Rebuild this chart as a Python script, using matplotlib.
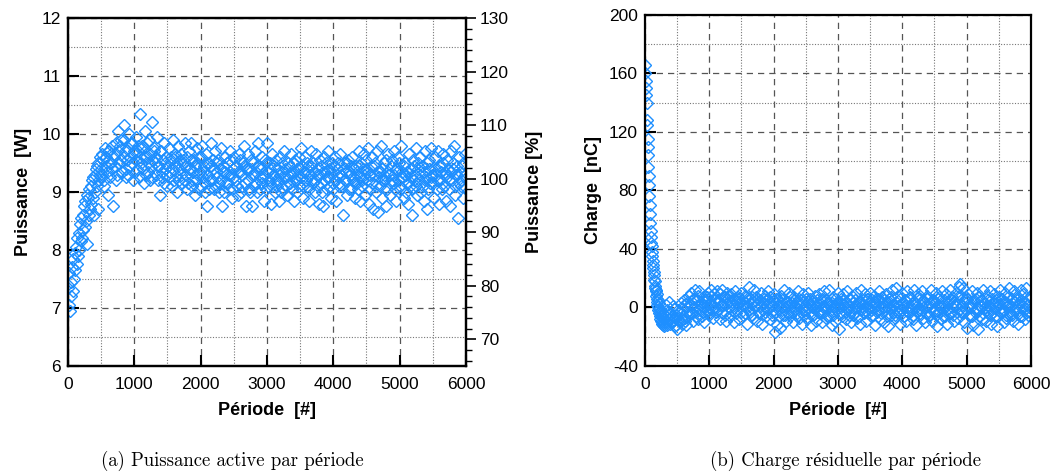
import numpy as np
import matplotlib
matplotlib.use("Agg")
import matplotlib.pyplot as plt
from matplotlib.ticker import MultipleLocator

# (a) puissance active - debut (pas de 10 periodes)
a_debut_periode = np.arange(0, 500, 10)
a_debut_puissance = [
    7.35, 7.05, 7.6, 6.95, 7.45, 7.2, 7.7, 7.3, 7.85, 7.5,
    7.95, 7.65, 8.05, 7.75, 8.2, 7.9, 8.3, 8.0, 8.45, 8.15,
    8.55, 8.2, 8.6, 8.35, 8.75, 8.4, 8.85, 8.5, 8.95, 8.1,
    8.9, 8.6, 9.05, 8.7, 9.1, 8.8, 9.2, 8.9, 9.25, 8.6,
    9.3, 9.0, 9.4, 9.1, 9.45, 8.7, 9.5, 9.2, 9.6, 9.3,
]
# (a) puissance active - regime, deux releves decales de 10 periodes
a_periode = np.arange(500, 6000, 20)
a_puissance = [
    9.4, 9.65, 9.2, 9.75, 9.45, 8.95, 9.7, 9.5, 9.8, 8.75,
    9.6, 9.85, 9.3, 10.05, 9.55, 9.9, 9.35, 10.15, 9.7, 9.25,
    9.75, 10.0, 9.45, 9.85, 9.2, 9.65, 9.95, 9.4, 9.7, 10.35,
    9.5, 9.8, 9.15, 10.05, 9.6, 9.35, 9.9, 9.2, 10.2, 9.55,
    9.75, 9.3, 9.95, 9.45, 8.95, 9.7, 9.25, 9.85, 9.4, 9.6,
    9.1, 9.75, 9.35, 9.55, 9.9, 9.2, 9.6, 9.0, 9.8, 9.4,
    9.65, 9.15, 9.5, 9.85, 9.3, 9.05, 9.7, 9.4, 9.85, 9.2,
    9.55, 8.95, 9.75, 9.3, 9.6, 9.1, 9.8, 9.35, 9.0, 9.65,
    8.75, 9.5, 9.2, 9.85, 9.4, 9.05, 9.7, 9.25, 9.55, 9.0,
    9.75, 8.75, 9.35, 9.6, 9.15, 9.5, 9.05, 9.7, 9.3, 8.9,
    9.6, 9.2, 9.45, 8.95, 9.65, 9.35, 9.1, 9.5, 9.8, 8.75,
    9.4, 9.65, 9.0, 9.55, 8.75, 9.3, 9.7, 9.15, 9.85, 9.45,
    9.05, 9.6, 9.25, 8.85, 9.5, 9.85, 9.1, 9.4, 8.8, 9.65,
    9.3, 9.0, 9.55, 9.2, 8.85, 9.6, 9.35, 9.05, 9.7, 9.25,
    8.95, 9.5, 9.15, 9.65, 9.3, 8.85, 9.55, 9.2, 9.0, 9.6,
    9.4, 9.75, 8.9, 9.35, 9.6, 9.1, 9.45, 8.85, 9.7, 9.2,
    9.5, 9.0, 9.65, 9.3, 8.8, 9.55, 9.15, 8.75, 9.6, 9.35,
    9.05, 9.7, 9.25, 8.9, 9.5, 9.15, 9.6, 8.85, 9.4, 9.1,
    9.65, 9.3, 8.6, 9.5, 9.2, 8.95, 9.55, 9.35, 9.05, 9.6,
    9.25, 8.9, 9.45, 9.15, 9.7, 8.85, 9.5, 9.2, 9.65, 8.95,
    9.4, 9.75, 8.8, 9.3, 9.6, 8.7, 9.45, 9.1, 9.7, 8.65,
    9.35, 9.8, 8.9, 9.5, 9.2, 8.75, 9.65, 9.3, 8.95, 9.55,
    9.15, 9.7, 8.85, 9.4, 9.6, 9.05, 9.8, 9.25, 8.9, 9.5,
    9.3, 8.8, 9.65, 9.1, 8.6, 9.55, 9.2, 9.75, 8.95, 9.4,
    9.6, 9.0, 9.45, 8.85, 9.7, 9.25, 8.7, 9.55, 9.15, 9.75,
    9.3, 8.9, 9.6, 9.2, 9.7, 8.8, 9.45, 9.05, 9.65, 9.35,
    8.85, 9.55, 9.2, 8.75, 9.7, 9.4, 9.8, 8.95, 9.3, 8.55,
    9.6, 9.1, 9.45, 8.9, 9.65,
]
a_periode2 = np.arange(510, 6000, 20)
a_puissance2 = [
    9.3, 9.55, 9.1, 9.6, 9.35, 9.7, 9.25, 9.5, 9.4, 9.65,
    9.45, 9.2, 9.7, 9.5, 9.8, 9.35, 9.6, 9.9, 9.4, 9.55,
    9.3, 9.6, 9.85, 9.5, 9.7, 9.35, 9.55, 9.8, 9.25, 9.6,
    9.75, 9.4, 9.6, 9.3, 9.85, 9.5, 9.65, 9.45, 9.25, 9.7,
    9.5, 9.6, 9.2, 9.45, 9.7, 9.35, 9.55, 9.15, 9.5, 9.3,
    9.45, 9.25, 9.6, 9.1, 9.4, 9.65, 9.3, 9.5, 9.2, 9.55,
    9.3, 9.55, 9.2, 9.45, 9.6, 9.15, 9.4, 9.55, 9.1, 9.35,
    9.45, 9.2, 9.5, 9.05, 9.35, 9.6, 9.25, 9.45, 9.15, 9.5,
    9.3, 9.05, 9.45, 9.2, 9.55, 9.1, 9.35, 9.5, 9.15, 9.4,
    9.2, 9.45, 9.0, 9.35, 9.5, 9.15, 9.3, 9.55, 9.05, 9.4,
    9.25, 9.45, 9.1, 9.35, 9.55, 9.0, 9.3, 9.45, 9.15, 9.4,
    9.2, 9.05, 9.4, 9.3, 9.5, 9.1, 9.35, 9.0, 9.45, 9.25,
    9.4, 9.15, 9.3, 9.55, 9.05, 9.35, 9.2, 9.5, 9.1, 9.3,
    9.45, 9.2, 9.1, 9.4, 9.3, 9.0, 9.5, 9.25, 9.4, 9.1,
    9.3, 9.15, 9.45, 9.05, 9.35, 9.5, 9.2, 9.4, 9.3, 9.1,
    9.25, 9.45, 9.1, 9.35, 9.2, 9.5, 9.05, 9.3, 9.45, 9.15,
    9.35, 9.2, 9.4, 9.1, 9.3, 9.45, 9.0, 9.35, 9.2, 9.5,
    9.25, 9.4, 9.1, 9.35, 9.05, 9.45, 9.2, 9.3, 9.5, 9.15,
    9.3, 9.1, 9.4, 9.2, 9.35, 9.5, 9.05, 9.3, 9.45, 9.2,
    9.4, 9.15, 9.3, 9.05, 9.45, 9.25, 9.1, 9.4, 9.3, 9.55,
    9.2, 9.35, 9.05, 9.45, 9.15, 9.3, 9.5, 9.0, 9.35, 9.25,
    9.1, 9.4, 9.2, 9.3, 9.55, 9.05, 9.35, 9.15, 9.45, 9.2,
    9.3, 9.05, 9.4, 9.2, 9.5, 9.1, 9.35, 9.25, 9.45, 9.0,
    9.35, 9.15, 9.4, 9.25, 9.05, 9.45, 9.3, 9.1, 9.5, 9.2,
    9.3, 9.45, 9.1, 9.35, 9.2, 9.5, 9.05, 9.4, 9.25, 9.3,
    9.15, 9.4, 9.3, 9.05, 9.45, 9.2, 9.35, 9.5, 9.1, 9.3,
    9.25, 9.4, 9.05, 9.35, 9.2, 9.5, 9.1, 9.3, 9.45, 9.15,
    9.35, 9.2, 9.5, 9.1, 9.3,
]
p_nominale = 9.23  # W correspondant a 100 %

# (b) charge residuelle - debut (pas de 5 periodes)
b_debut_periode = np.arange(0, 300, 5)
b_debut_charge = [
    166, 160, 155, 150, 145, 140, 128, 125, 115, 110,
    104, 96, 90, 84, 76, 70, 64, 58, 52, 48,
    44, 42, 38, 35, 32, 29, 27, 24, 22, 19,
    18, 15, 13, 11, 12, 8, 6, 9, 4, 2,
    5, 0, -2, 3, -4, -1, -6, -3, -8, -5,
    -9, -2, -10, -6, -11, -4, -12, -7, -10, -13,
]
# (b) charge residuelle - regime, deux releves decales de 10 periodes
b_periode = np.arange(300, 6000, 20)
b_charge = [
    -8, 2, -12, -3, 4, -10, -6, 1, -13, -5,
    -15, -2, -9, 3, -11, 5, -7, -12, 0, 8,
    -4, 10, -9, 6, 12, -3, -8, 11, 2, -6,
    7, -10, 4, -2, 10, -5, 12, 1, -7, 9,
    -3, 11, 5, -8, 2, 12, -4, 7, -9, 10,
    0, -6, 9, 4, -10, 11, -2, 6, -8, 3,
    10, -5, 1, 8, -11, 5, 14, -3, 7, -7,
    12, 2, -9, 6, -4, 10, -11, 3, 8, -6,
    5, 11, -8, 1, -3, 9, -17, 6, -12, 2,
    -14, 8, -5, 12, 0, -9, 4, 10, -6, 3,
    -10, 7, 1, -4, 11, -7, 5, -11, 9, -2,
    6, -8, 10, 2, -12, 4, -5, 8, -9, 1,
    9, -3, 5, -10, 11, 0, -7, 3, 12, -6,
    -12, 7, 1, -9, 4, 10, -15, 6, -4, 9,
    2, -8, 11, -2, 5, -10, 8, -5, 0, 10,
    -7, 4, -11, 12, 1, -4, 9, -9, 6, -1,
    10, -6, 3, 8, -12, 5, -2, 11, -8, 7,
    0, -10, 9, 4, -13, 6, -5, 12, 1, -7,
    13, -3, 8, -11, 2, 10, -6, 5, -9, 11,
    -4, 7, 0, -8, 12, 3, -12, 9, -2, 6,
    11, -7, 4, -10, 8, 1, -5, 12, -9, 5,
    -2, 10, -13, 6, 0, -8, 11, 3, -6, 9,
    -11, 4, 12, -4, 7, -9, 2, 10, -7, 14,
    16, -3, 13, -10, 6, -14, 9, 1, -6, 11,
    -12, 5, -2, 10, -15, 7, 0, -8, 12, 3,
    -9, 8, -4, 11, -11, 2, 9, -6, 5, -13,
    7, 12, -3, 4, -10, 10, -7, 1, 13, -5,
    6, -9, 11, -2, 8, -11, 3, 12, -6, 9,
    -8, 13, 2, -5, 7,
]
b_periode2 = np.arange(310, 6000, 20)
b_charge2 = [
    -6, -10, -2, -8, -11, -4, -9, -1, -7, -12,
    -8, -4, -10, -1, -6, 2, -9, -3, 4, -5,
    2, -4, 6, 0, -6, 5, 8, -2, 4, 1,
    -3, 5, 1, 7, -4, 3, 8, -2, 5, 0,
    6, -1, 4, 9, -3, 2, 7, -5, 3, 6,
    4, 8, -2, 1, 6, -4, 3, 7, 0, -3,
    5, 2, -4, 7, 1, -2, 6, 3, -5, 4,
    0, 7, 3, -4, 5, 1, -2, 6, -3, 2,
    -1, 4, 7, -5, 2, 5, -3, 1, 6, -6,
    3, -2, 6, -5, 4, 1, -4, 7, 0, -3,
    5, -1, 3, -6, 6, 2, -3, 4, -5, 1,
    -2, 4, -4, 6, 0, -5, 3, -1, 5, -3,
    2, -4, 6, 0, -3, 5, -6, 4, 1, -2,
    3, -5, 6, -1, 2, -4, 4, 0, -6, 5,
    -3, 4, 1, -5, 6, -2, 3, -4, 5, 0,
    2, -6, 4, -1, 5, -3, 1, 6, -4, 3,
    -2, 5, -5, 2, 4, -3, 6, 0, -4, 3,
    5, -2, 1, -6, 4, 0, 7, -3, 2, -5,
    4, 1, -4, 6, -2, 3, -6, 5, 0, -3,
    6, -1, 3, -5, 4, 0, -3, 7, -4, 2,
    -2, 5, 1, -4, 6, -6, 3, 0, 5, -3,
    4, -5, 2, 7, -3, 1, -6, 5, 0, -2,
    3, -4, 6, 0, -5, 4, 1, -3, 7, -1,
    8, 2, -4, 5, -2, 6, -5, 3, 0, -6,
    4, -3, 6, -1, 2, -6, 5, -4, 3, 0,
    -2, 5, 1, -5, 6, -3, 3, 0, -6, 4,
    2, -4, 6, -1, 4, -5, 3, 7, -3, 1,
    -5, 4, 0, 6, -3, 2, -6, 5, 1, -2,
    4, -4, 6, 0, -3,
]

bleu = '#1e8fff'
plt.rcParams['font.family'] = ['Liberation Sans', 'DejaVu Sans']
plt.rcParams['font.size'] = 12
plt.rcParams['axes.unicode_minus'] = False

fig = plt.figure(figsize=(10.59, 4.75), dpi=100)
ax1 = fig.add_axes([0.0642, 0.2295, 0.3758, 0.7326])
ax2 = fig.add_axes([0.609, 0.2295, 0.3645, 0.739])


def style_axe(ax, ylim, ymaj, ymin):
    ax.set_xlim(0, 6000)
    ax.set_ylim(*ylim)
    ax.xaxis.set_major_locator(MultipleLocator(1000))
    ax.xaxis.set_minor_locator(MultipleLocator(500))
    ax.yaxis.set_major_locator(MultipleLocator(ymaj))
    ax.yaxis.set_minor_locator(MultipleLocator(ymin))
    ax.grid(which='major', color='#555555', linestyle=(0, (5, 4)), linewidth=0.9)
    ax.grid(which='minor', color='#777777', linestyle=(0, (1, 1.5)), linewidth=0.8)
    ax.set_axisbelow(True)
    ax.tick_params(which='major', direction='in', length=8, width=1.5, labelsize=12.5, pad=5)
    ax.tick_params(axis='x', which='major', pad=8)
    ax.tick_params(which='minor', length=0)
    for s in ax.spines.values():
        s.set_linewidth(1.6)
    ax.set_xlabel('Période  [#]', fontsize=13, fontweight='bold', labelpad=7)


marque = dict(linestyle='none', marker='D', markersize=6.2, markerfacecolor='none',
              markeredgecolor=bleu, markeredgewidth=1.0)

# (a)
style_axe(ax1, (6, 12), 1, 0.5)
ax1.plot(a_debut_periode, a_debut_puissance, **marque)
ax1.plot(a_periode, a_puissance, **marque)
ax1.plot(a_periode2, a_puissance2, **marque)
ax1.set_ylabel('Puissance  [W]', fontsize=13, fontweight='bold', labelpad=7)
ax1b = ax1.twinx()
ax1b.set_ylim(6 / p_nominale * 100, 12 / p_nominale * 100)
ax1b.yaxis.set_major_locator(MultipleLocator(10))
ax1b.yaxis.set_minor_locator(MultipleLocator(2))
ax1b.tick_params(which='major', direction='out', length=7, width=1.2, labelsize=12.5, pad=3)
ax1b.tick_params(which='minor', direction='out', length=4, width=1.0)
ax1b.set_ylabel('Puissance [%]', fontsize=13, fontweight='bold', labelpad=12)
for s in ax1b.spines.values():
    s.set_linewidth(1.6)

# (b)
style_axe(ax2, (-40, 200), 40, 20)
ax2.plot(b_debut_periode, b_debut_charge, **marque)
ax2.plot(b_periode, b_charge, **marque)
ax2.plot(b_periode2, b_charge2, **marque)
ax2.set_ylabel('Charge  [nC]', fontsize=13, fontweight='bold', labelpad=5)

legende = dict(fontsize=13.5, family=['cmr10', 'Liberation Serif'], ha='center', va='center')
fig.text(0.219, 0.03, '(a) Puissance active par période', **legende)
fig.text(0.798, 0.03, '(b) Charge résiduelle par période', **legende)

fig.savefig('out.png', dpi=100)
